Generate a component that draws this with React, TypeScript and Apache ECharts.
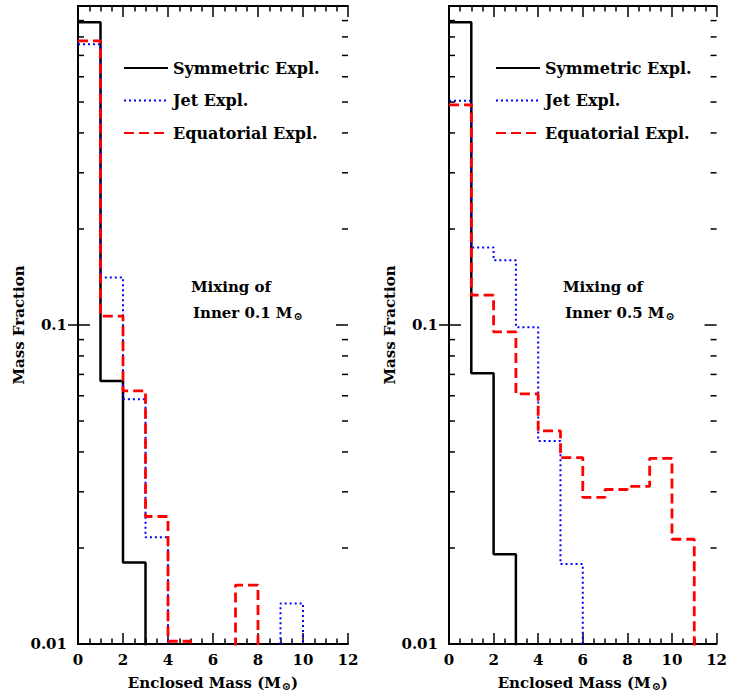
import React, { useEffect, useRef } from 'react';
import * as echarts from 'echarts';

// ---- axes ----
const X_MIN = 0;
const X_MAX = 12;
const X_INTERVAL = 2;
const Y_MIN = 0.01;
const Y_MAX = 1;
// empty bins lie below the plot floor (0.01)
const FLOOR = 0.001;

// ---- series (bin values, one per unit-wide bin starting at 0) ----
const SERIES_NAMES = ['Symmetric Expl.', 'Jet Expl.', 'Equatorial Expl.'];

const SYM_LEFT = [0.89, 0.0668, 0.018, FLOOR];
const JET_LEFT = [0.759, 0.141, 0.0585, 0.0216, FLOOR, FLOOR, FLOOR, FLOOR, FLOOR, 0.0134, FLOOR];
const EQ_LEFT = [0.777, 0.1066, 0.0622, 0.0251, 0.0102, FLOOR, FLOOR, 0.0153, FLOOR];

const SYM_RIGHT = [0.89, 0.0706, 0.0191, FLOOR];
const JET_RIGHT = [0.505, 0.175, 0.1595, 0.0984, 0.0433, 0.0178, FLOOR];
const EQ_RIGHT = [0.49, 0.124, 0.0951, 0.0608, 0.0466, 0.0384, 0.0288, 0.0305, 0.0312, 0.0382, 0.0213, FLOOR];

// ---- log-axis minor / major ticks ----
const Y_MINOR_TICKS = [0.02, 0.03, 0.04, 0.05, 0.06, 0.07, 0.08, 0.09, 0.2, 0.3, 0.4, 0.5, 0.6, 0.7, 0.8, 0.9];
const Y_MAJOR_TICKS = [0.1];

const NOTES_LEFT = ['Mixing of', 'Inner 0.1 M{s|⊙}'];
const NOTES_RIGHT = ['Mixing of', 'Inner 0.5 M{s|⊙}'];

const FONT = 'DejaVu Serif';

const PANELS = [
  { grid: { left: 78, top: 6, width: 270, height: 642 }, data: [SYM_LEFT, JET_LEFT, EQ_LEFT], legendLeft: 123, notes: NOTES_LEFT, noteLeft: 191 },
  { grid: { left: 449, top: 6, width: 270, height: 642 }, data: [SYM_RIGHT, JET_RIGHT, EQ_RIGHT], legendLeft: 495, notes: NOTES_RIGHT, noteLeft: 563 },
];

const LINE_STYLES = [
  { color: '#000000', width: 2.5, type: 'solid' },
  { color: '#0000ff', width: 2, type: [2, 3] },
  { color: '#ff0000', width: 2.8, type: [10, 5] },
];

const toSteps = (vals: number[]) => vals.map((v, i) => [i, v]);

export default function App() {
  const ref = useRef<HTMLDivElement>(null);
  useEffect(() => {
    if (!ref.current) return;
    const chart = echarts.init(ref.current, undefined, { renderer: 'svg' });
    const textBase = { fontFamily: FONT, fontWeight: 'bold' as const, color: '#000' };
    const subRich = { s: { fontFamily: FONT, fontWeight: 'bold', fontSize: 11, verticalAlign: 'bottom', padding: [7, 0, 0, 1] } };

    const xAxis: any[] = [];
    const yAxis: any[] = [];
    const series: any[] = [];
    const graphic: any[] = [];
    const legend: any[] = [];

    PANELS.forEach((p, gi) => {
      const axisLine = { show: true, lineStyle: { color: '#000', width: 2 } };
      // bottom x
      xAxis.push({
        type: 'value', gridIndex: gi, min: X_MIN, max: X_MAX, interval: X_INTERVAL, position: 'bottom',
        axisLine, splitLine: { show: false },
        axisTick: { show: true, inside: true, length: 11, lineStyle: { color: '#000', width: 1.5 } },
        minorTick: { show: true, splitNumber: 4, length: 5.5, lineStyle: { color: '#000', width: 1.5 } },
        axisLabel: { ...textBase, fontSize: 15, margin: 8 },
        name: 'Enclosed Mass (M{s|⊙})', nameLocation: 'middle', nameGap: 30,
        nameTextStyle: { ...textBase, fontSize: 15, rich: subRich },
      });
      // top mirror x
      xAxis.push({
        type: 'value', gridIndex: gi, min: X_MIN, max: X_MAX, interval: X_INTERVAL, position: 'top',
        axisLine, splitLine: { show: false },
        axisTick: { show: true, inside: true, length: 11, lineStyle: { color: '#000', width: 1.5 } },
        minorTick: { show: true, splitNumber: 4, length: 5.5, lineStyle: { color: '#000', width: 1.5 } },
        axisLabel: { show: false },
      });
      // left log y
      yAxis.push({
        type: 'log', logBase: 10, gridIndex: gi, min: Y_MIN, max: Y_MAX, position: 'left',
        axisLine, splitLine: { show: false }, axisTick: { show: false },
        axisLabel: {
          ...textBase, fontSize: 15, margin: 11,
          formatter: (v: number) => (v > 0.5 ? '' : String(Number(v.toPrecision(3)))),
        },
        name: 'Mass Fraction', nameLocation: 'middle', nameGap: 52,
        nameTextStyle: { ...textBase, fontSize: 15 },
      });
      // right mirror y
      yAxis.push({
        type: 'log', logBase: 10, gridIndex: gi, min: Y_MIN, max: Y_MAX, position: 'right',
        axisLine, splitLine: { show: false }, axisTick: { show: false }, axisLabel: { show: false },
      });

      // tick marks on log axes (drawn through the axis scale)
      series.push({
        type: 'custom', xAxisIndex: gi * 2, yAxisIndex: gi * 2, silent: true, z: 5,
        data: [
          ...Y_MINOR_TICKS.map((v) => [X_MIN, v, 0]),
          ...Y_MAJOR_TICKS.map((v) => [X_MIN, v, 1]),
        ],
        renderItem: (params: any, api: any) => {
          const v = api.value(1);
          const major = api.value(2) === 1;
          const l = api.coord([X_MIN, v]);
          const r = api.coord([X_MAX, v]);
          const len = major ? 12 : 6;
          const st = { stroke: '#000', lineWidth: 1.5 };
          return {
            type: 'group',
            children: [
              { type: 'line', shape: { x1: l[0] - (major ? 10 : 0), y1: l[1], x2: l[0] + len, y2: l[1] }, style: st },
              { type: 'line', shape: { x1: r[0] - len, y1: r[1], x2: r[0], y2: r[1] }, style: st },
            ],
          };
        },
      });

      p.data.forEach((vals, si) => {
        const ls = LINE_STYLES[si];
        series.push({
          type: 'line', name: SERIES_NAMES[si], xAxisIndex: gi * 2, yAxisIndex: gi * 2,
          step: 'end', symbol: 'none', showSymbol: false, clip: true, z: 3 + si,
          data: toSteps(vals),
          color: ls.color,
          lineStyle: { color: ls.color, width: ls.width, type: ls.type },
        });
      });

      legend.push({
        data: SERIES_NAMES, orient: 'vertical', left: p.legendLeft, top: 60, padding: 0,
        itemWidth: 44, itemHeight: 14, itemGap: 16.5, itemTextGap: 6, selectedMode: false,
        itemStyle: { opacity: 0, borderWidth: 0 },
        textStyle: { ...textBase, fontSize: 16 },
      });

      graphic.push({
        type: 'text', left: p.noteLeft, top: 279,
        style: { text: p.notes[0], font: `bold 15px "${FONT}"`, fill: '#000' },
      });
      graphic.push({
        type: 'text', left: p.noteLeft + 2, top: 305,
        style: { text: p.notes[1], font: `bold 15px "${FONT}"`, fill: '#000', rich: subRich },
      });
    });

    chart.setOption({
      animation: false,
      backgroundColor: '#ffffff',
      grid: PANELS.map((p) => ({ ...p.grid, containLabel: false })),
      xAxis, yAxis, series, legend, graphic,
    });
    return () => chart.dispose();
  }, []);
  return <div ref={ref} style={{ position: 'fixed', left: 0, top: 0, width: 730, height: 697 }} />;
}
